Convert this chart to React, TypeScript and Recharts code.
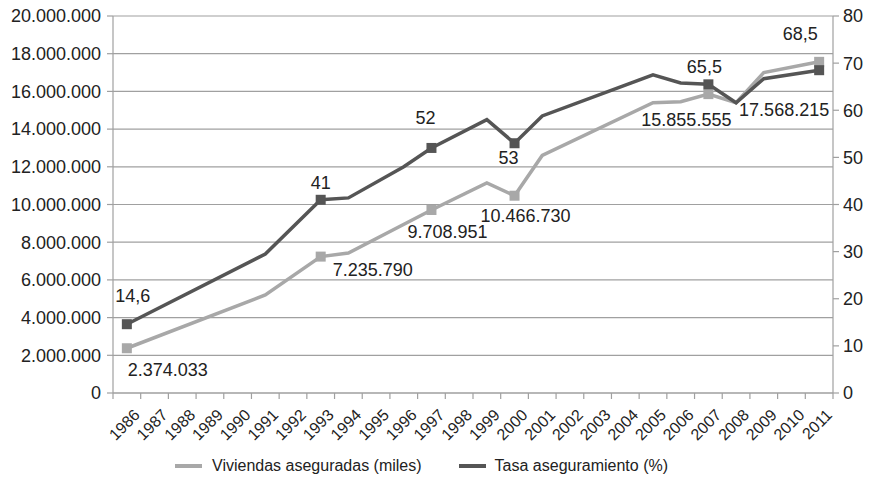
import React from 'react';
import { ComposedChart, Line, XAxis, YAxis, CartesianGrid, Legend } from 'recharts';

const years = [
  '1986', '1987', '1988', '1989', '1990', '1991', '1992', '1993', '1994', '1995', '1996', '1997', '1998',
  '1999', '2000', '2001', '2002', '2003', '2004', '2005', '2006', '2007', '2008', '2009', '2010', '2011',
];

// Viviendas aseguradas; null = year without a point of its own (line joins neighbours)
const viviendas: (number | null)[] = [
  2374033, null, null, null, null, 5200000, null, 7235790, 7430000, null, null, 9708951, null,
  11140000, 10466730, 12600000, null, null, null, 15400000, 15450000, 15855555, 15400000, 17000000, null, 17568215,
];

// Tasa aseguramiento (%)
const tasa: (number | null)[] = [
  14.6, null, null, null, null, 29.5, null, 41, 41.4, null, 48, 52, null,
  58, 53, 58.8, null, null, null, 67.5, 65.8, 65.5, 61.6, 66.7, null, 68.5,
];

const markedYears = ['1986', '1993', '1997', '2000', '2007', '2011'];
const leftTicks = [0, 2000000, 4000000, 6000000, 8000000, 10000000, 12000000, 14000000, 16000000, 18000000, 20000000];
const rightTicks = [0, 10, 20, 30, 40, 50, 60, 70, 80];

const data = years.map((year, i) => ({ year, viviendas: viviendas[i], tasa: tasa[i] }));

const CHART_W = 871;
const CHART_H = 487;
const LEFT_W = 113;
const RIGHT_W = 38;
const BAND = (CHART_W - LEFT_W - RIGHT_W) / years.length;

const DARK = '#555555';
const LIGHT = '#a8a8a8';
const AXIS = '#a0a0a0';
const TEXT = '#222';

const fmtMiles = (v: number) => String(Math.round(v)).replace(/\B(?=(\d{3})+(?!\d))/g, '.');
const fmtPct = (v: number) => String(v).replace('.', ',');

// where each data label sits relative to its marker
const viviendasLabelPos: Record<string, [number, number]> = {
  '1986': [41, 22],
  '1993': [52, 13],
  '1997': [16, 22],
  '2000': [11, 20],
  '2007': [-22, 26],
  '2011': [-35, 48],
};
const tasaLabelPos: Record<string, [number, number]> = {
  '1986': [6, -28],
  '1993': [0, -17],
  '1997': [-6, -30],
  '2000': [-6, 15],
  '2007': [-4, -17],
  '2011': [-19, -36],
};

const squareDot = (color: string) => (props: any) => {
  const { cx, cy, payload, index } = props;
  if (cx == null || cy == null || !markedYears.includes(payload.year)) return <g key={`d-${index}`} />;
  return <rect key={`d-${index}`} x={cx - 5} y={cy - 5} width={10} height={10} fill={color} />;
};

const makeLabel = (pos: Record<string, [number, number]>, fmt: (v: number) => string) => (props: any) => {
  const { x, y, value, index } = props;
  const off = pos[years[index]];
  if (!off || value == null) return <g key={`l-${index}`} />;
  return (
    <text
      key={`l-${index}`}
      x={x + off[0]}
      y={y + off[1]}
      textAnchor="middle"
      dominantBaseline="central"
      fontSize={18}
      fill={TEXT}
    >
      {fmt(value)}
    </text>
  );
};

const YearTick = (props: any) => {
  const { x, y, payload, index } = props;
  const tx = x + 14;
  const ty = y + 23;
  return (
    <g>
      <line x1={x - BAND / 2} x2={x - BAND / 2} y1={y} y2={y + 6} stroke={AXIS} strokeWidth={1.2} />
      {index === years.length - 1 && (
        <line x1={x + BAND / 2} x2={x + BAND / 2} y1={y} y2={y + 6} stroke={AXIS} strokeWidth={1.2} />
      )}
      <text x={tx} y={ty} textAnchor="end" fontSize={16} fill={TEXT} transform={`rotate(-45 ${tx} ${ty})`}>
        {payload.value}
      </text>
    </g>
  );
};

const LegendContent = () => (
  <div style={{ display: 'flex', alignItems: 'center', height: 26, paddingLeft: 175, fontSize: 16, color: TEXT }}>
    <span style={{ display: 'inline-block', width: 27, height: 4, background: LIGHT, marginRight: 10 }} />
    <span>Viviendas aseguradas (miles)</span>
    <span style={{ display: 'inline-block', width: 27, height: 4, background: DARK, marginLeft: 37, marginRight: 9 }} />
    <span>Tasa aseguramiento (%)</span>
  </div>
);

export default function App() {
  return (
    <div style={{ position: 'absolute', left: 0, top: 0, width: CHART_W, height: CHART_H, background: '#fff' }}>
      <ComposedChart
        width={CHART_W}
        height={CHART_H}
        data={data}
        margin={{ top: 16, right: 0, bottom: 0, left: 0 }}
        style={{ fontFamily: '"Liberation Sans", Arial, sans-serif' }}
      >
        <CartesianGrid yAxisId="left" vertical={false} stroke={AXIS} strokeWidth={1.2} />
        <XAxis
          dataKey="year"
          interval={0}
          height={60}
          padding={{ left: BAND / 2, right: BAND / 2 }}
          tickLine={false}
          tickSize={0}
          tickMargin={0}
          tick={<YearTick />}
          axisLine={{ stroke: AXIS, strokeWidth: 1.2 }}
        />
        <YAxis
          yAxisId="left"
          width={LEFT_W}
          domain={[0, 20000000]}
          ticks={leftTicks}
          interval={0}
          tickFormatter={fmtMiles}
          tickMargin={6}
          axisLine={{ stroke: AXIS, strokeWidth: 1.2 }}
          tickLine={{ stroke: AXIS, strokeWidth: 1.2 }}
          tick={{ fontSize: 18, fill: TEXT }}
        />
        <YAxis
          yAxisId="right"
          orientation="right"
          width={RIGHT_W}
          domain={[0, 80]}
          ticks={rightTicks}
          interval={0}
          tickMargin={4}
          axisLine={{ stroke: AXIS, strokeWidth: 1.2 }}
          tickLine={{ stroke: AXIS, strokeWidth: 1.2 }}
          tick={{ fontSize: 18, fill: TEXT }}
        />
        <Legend verticalAlign="bottom" height={34} content={() => <LegendContent />} />
        <Line
          yAxisId="left"
          dataKey="viviendas"
          name="Viviendas aseguradas (miles)"
          stroke={LIGHT}
          strokeWidth={3.5}
          connectNulls
          dot={squareDot(LIGHT)}
          activeDot={false}
          label={makeLabel(viviendasLabelPos, fmtMiles)}
          isAnimationActive={false}
        />
        <Line
          yAxisId="right"
          dataKey="tasa"
          name="Tasa aseguramiento (%)"
          stroke={DARK}
          strokeWidth={3.5}
          connectNulls
          dot={squareDot(DARK)}
          activeDot={false}
          label={makeLabel(tasaLabelPos, fmtPct)}
          isAnimationActive={false}
        />
      </ComposedChart>
    </div>
  );
}
